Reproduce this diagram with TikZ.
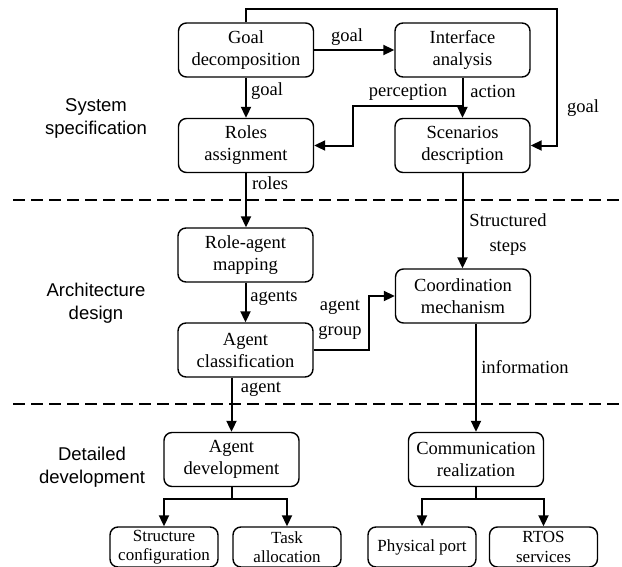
\documentclass[tikz,border=0pt]{standalone}
\usepackage{fontspec}
\setmainfont{Liberation Serif}
\setsansfont{Liberation Sans}
\usetikzlibrary{arrows.meta}
\begin{document}
\begin{tikzpicture}[x=1pt,y=-1pt,
  box/.style={draw, line width=1.4pt, rounded corners=8pt, align=center, inner sep=0pt,
    minimum width=135pt, minimum height=54pt, font=\fontsize{18.5}{22}\selectfont},
  sbox/.style={box, minimum width=108pt, minimum height=40pt, font=\fontsize{17}{19.5}\selectfont},
  arr/.style={line width=2pt, -{Triangle[length=11pt,width=10pt]}},
  lbl/.style={font=\fontsize{18.5}{24}\selectfont, inner sep=0pt, align=center},
  sec/.style={font=\sffamily\fontsize{18.5}{23}\selectfont, inner sep=0pt, align=center},
  sepline/.style={line width=2pt, dash pattern=on 12pt off 6pt}
]
\clip (0,0) rectangle (622,566);
\fill[white] (0,0) rectangle (622,566);

% section separators
\draw[sepline] (13,200) -- (622,200);
\draw[sepline] (13,404) -- (622,404);

% section labels
\node[sec] (s1) at (96,118) {System\\specification};
\node[sec] (s2) at (96,303) {Architecture\\design};
\node[sec] (s3) at (92,467) {Detailed\\development};

% boxes
\node[box] (GD) at (246,50) {Goal\\decomposition};
\node[box] (IA) at (462.5,50) {Interface\\analysis};
\node[box] (RA) at (246,145.5) {Roles\\assignment};
\node[box] (SD) at (462.5,145.5) {Scenarios\\description};
\node[box] (RAM) at (245.5,255) {Role-agent\\mapping};
\node[box] (CM) at (463,296) {Coordination\\mechanism};
\node[box] (AC) at (245.5,350) {Agent\\classification};
\node[box] (ADev) at (231.5,459.5) {Agent\\development};
\node[box] (CR) at (476,459.5) {Communication\\realization};
\node[sbox] (SC) at (164,547) {Structure\\configuration};
\node[sbox] (TA) at (287,547) {Task\\allocation};
\node[sbox] (PP) at (422,547) {Physical port};
\node[sbox] (RS) at (543.5,547) {RTOS\\services};

% helper coordinates
\coordinate (tl) at (557,9);
\coordinate (pj) at (462.5,106);
\coordinate (pk) at (353,106);

% connectors
\draw[arr] (GD) -- (IA);
\draw[arr] (GD) -- (RA);
\draw[arr] (IA) -- (SD);
\draw[arr] (GD.north) |- (tl) |- (SD.east);
\draw[arr] (pj) -- (pk) |- (RA.east);
\draw[arr] (RA.south) -- (RA.south |- RAM.north);
\draw[arr] (RAM) -- (AC);
\draw[arr] (SD.south) -- (SD.south |- CM.north);
\draw[arr] (AC.east) -- ++(55,0) |- (CM.west);
\draw[arr] (ADev.north |- AC.south) -- (ADev.north);
\draw[arr] (CR.north |- CM.south) -- (CR.north);
\draw[arr] (ADev.south) -- ++(0,12) -| (SC.north);
\draw[arr] (ADev.south) -- ++(0,12) -| (TA.north);
\draw[arr] (CR.south) -- ++(0,12) -| (PP.north);
\draw[arr] (CR.south) -- ++(0,12) -| (RS.north);

% connector labels
\node[lbl] (l1) at (347,37) {goal};
\node[lbl] (l2) at (267,91) {goal};
\node[lbl] (l3) at (408,92) {perception};
\node[lbl] (l4) at (493,91) {action};
\node[lbl] (l5) at (583,108) {goal};
\node[lbl] (l6) at (270,183) {roles};
\node[lbl, font=\fontsize{18.5}{25}\selectfont] (l7) at (508,234.5) {Structured\\steps};
\node[lbl] (l8) at (274,298) {agents};
\node[lbl, font=\fontsize{18.5}{25}\selectfont] (l9) at (340,320) {agent\\group};
\node[lbl] (l10) at (261,389) {agent};
\node[lbl] (l11) at (525,367) {information};
\end{tikzpicture}
\end{document}
